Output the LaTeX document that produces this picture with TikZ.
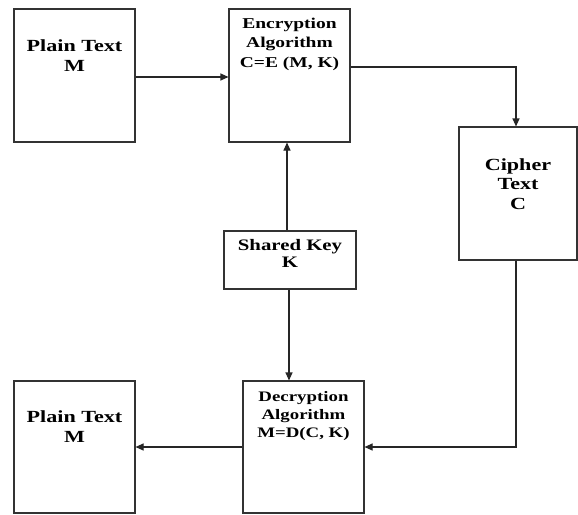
\documentclass[tikz,border=0pt]{standalone}
\usepackage{fontspec}
\newfontfamily\dfont[FakeStretch=1.3]{Liberation Serif}
\usetikzlibrary{arrows.meta}
\begin{document}
\begin{tikzpicture}[x=1pt,y=-1pt,
  box/.style={draw=black!80,line width=1.1pt,rectangle,inner sep=0pt},
  lbl/.style={anchor=base,align=center,inner sep=0pt,text=black},
  bigtxt/.style={lbl,font=\dfont\bfseries\fontsize{17}{20}\selectfont},
  midtxt/.style={lbl,font=\dfont\bfseries\fontsize{15}{19.5}\selectfont},
  conn/.style={draw=black!85,line width=1.1pt},
  arr/.style={conn,-{Triangle[length=8pt,width=7pt]}}]
\useasboundingbox[fill=white] (0,0) rectangle (578,514);
% boxes
\node[box,minimum width=121pt,minimum height=133pt] (p1) at (74.5,75.5) {};
\node[box,minimum width=121pt,minimum height=133pt] (enc) at (289.5,75.5) {};
\node[box,minimum width=118pt,minimum height=133pt] (cip) at (518,193.5) {};
\node[box,minimum width=132pt,minimum height=58pt] (key) at (290,260) {};
\node[box,minimum width=121pt,minimum height=132pt] (dec) at (303.5,447) {};
\node[box,minimum width=121pt,minimum height=132pt] (p2) at (74.5,447) {};
% texts (anchor = baseline of last line)
\node[bigtxt] (p1t) at (74.5,71) {Plain Text\\M};
\node[midtxt] (enct) at (289.5,67) {Encryption\\Algorithm\\C=E (M, K)};
\node[bigtxt,font=\dfont\bfseries\fontsize{17}{19.5}\selectfont] (cipt) at (518,209) {Cipher\\Text\\C};
\node[lbl,font=\dfont\bfseries\fontsize{16}{17}\selectfont] (keyt) at (290,267) {Shared Key\\K};
\node[lbl,font=\dfont\bfseries\fontsize{14.5}{18}\selectfont] (dect) at (303.5,437) {Decryption\\Algorithm\\M=D(C, K)};
\node[bigtxt] (p2t) at (74.5,442) {Plain Text\\M};
% connectors
\draw[arr] ([yshift=-1.5pt]p1.east) -- ([yshift=-1.5pt]p1.east -| enc.west);
\draw[arr] ([yshift=8.5pt]enc.east) -| ([xshift=-2pt]cip.north);
\draw[arr] ([xshift=-3pt]key.north) -- ([xshift=-3pt]key.north |- enc.south);
\draw[arr] ([xshift=-1pt]key.south) -- ([xshift=-1pt]key.south |- dec.north);
\draw[arr] ([xshift=-2pt]cip.south) |- (dec.east);
\draw[arr] (dec.west) -- (p2.east);
\end{tikzpicture}
\end{document}
